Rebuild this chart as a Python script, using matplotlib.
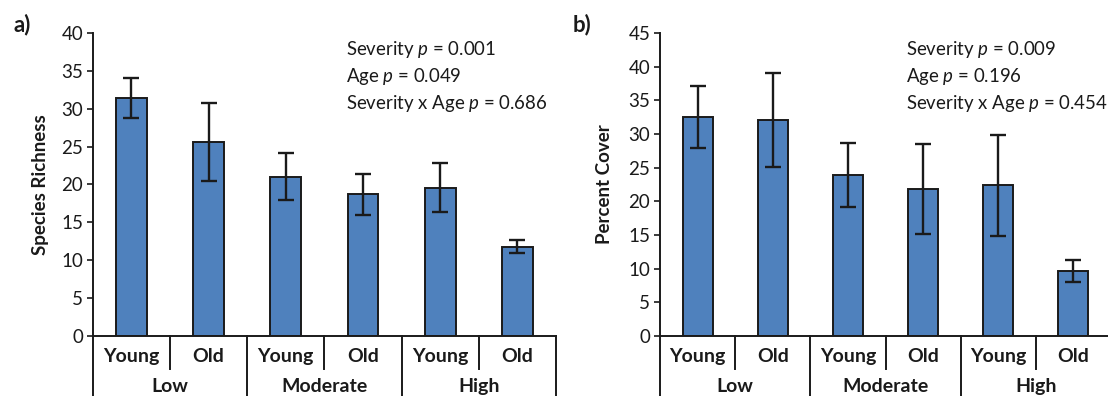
import numpy as np
import matplotlib
matplotlib.use("Agg")
import matplotlib.pyplot as plt
import matplotlib.transforms as mtransforms


# Dados (média e erro padrão).
ages = ["Young", "Old", "Young", "Old", "Young", "Old"]
severities = ["Low", "Moderate", "High"]

richness = [31.4, 25.6, 21.0, 18.7, 19.6, 11.8]
richness_err = [2.65, 5.1, 3.1, 2.7, 3.2, 0.85]

cover = [32.5, 32.1, 23.9, 21.8, 22.4, 9.65]
cover_err = [4.6, 7.0, 4.8, 6.7, 7.5, 1.6]

stats_a = ["Severity $p$ = 0.001", "Age $p$ = 0.049", "Severity x Age $p$ = 0.686"]
stats_b = ["Severity $p$ = 0.009", "Age $p$ = 0.196", "Severity x Age $p$ = 0.454"]

BLUE = "#4F81BD"
INK = "#1a1a1a"

plt.rcParams["font.family"] = ["Lato", "DejaVu Sans"]
plt.rcParams["mathtext.fontset"] = "custom"
plt.rcParams["mathtext.rm"] = "Lato"
plt.rcParams["mathtext.it"] = "Lato:italic"


############## Desenha um painel de barras com eixo agrupado. ##############
########################################################################
def PlotPanel(ax, values, errors, ymax, ylabel, stats, labelx):

  x = np.arange(len(values)) + 0.5
  ax.bar(x, values, width=0.4, color=BLUE, edgecolor=INK, linewidth=1.4,
      yerr=errors, error_kw=dict(ecolor=INK, elinewidth=1.7, capsize=5.5,
      capthick=1.7), zorder=2)

  ax.set_xlim(0, len(values))
  ax.set_ylim(0, ymax)
  ax.set_yticks(np.arange(0, ymax + 1, 5))
  ax.set_xticks([])
  ax.tick_params(axis='y', direction='out', length=4, width=1.2,
      labelsize=13.5, colors=INK, pad=3)

  for side in ["top", "right"]:
    ax.spines[side].set_visible(False)
  for side in ["left", "bottom"]:
    ax.spines[side].set_linewidth(1.4)
    ax.spines[side].set_color(INK)

  ax.set_ylabel(ylabel, fontsize=13.5, fontweight='bold', color=INK)
  ax.yaxis.set_label_coords(labelx, 0.5)

  # Linhas separadoras e rótulos das categorias abaixo do eixo.
  trans = mtransforms.blended_transform_factory(ax.transData, ax.transAxes)
  for i in range(len(values) + 1):
    bottom = -0.3 if i % 2 == 0 else -0.11
    ax.plot([i, i], [0, bottom], color=INK, linewidth=1.4,
        transform=trans, clip_on=False)
  for i in range(len(values)):
    ax.text(x[i], -0.066, ages[i], transform=trans, ha='center',
        va='center', fontsize=14, fontweight='bold', color=INK)
  for j in range(len(severities)):
    ax.text(2 * j + 1, -0.168, severities[j], transform=trans,
        ha='center', va='center', fontsize=14, fontweight='bold', color=INK)

  # Resultados estatísticos.
  for k, line in enumerate(stats):
    ax.text(0.546, [0.927, 0.838, 0.748][k], line, transform=ax.transAxes,
        ha='left', va='baseline', fontsize=13.4, color=INK)

########################################################################


######################### PROGRAMA PRINCIPAL ###########################
########################################################################

fig = plt.figure(figsize=(11.08, 3.96), dpi=100)
axA = fig.add_axes([0.0837, 0.1515, 0.4181, 0.7652])
axB = fig.add_axes([0.5957, 0.1515, 0.4070, 0.7652])

PlotPanel(axA, richness, richness_err, 40, "Species Richness", stats_a, -0.094)
PlotPanel(axB, cover, cover_err, 45, "Percent Cover", stats_b, -0.104)

fig.text(0.012, 0.937, "a)", fontsize=16, fontweight='bold', color=INK,
    va='center', ha='left')
fig.text(0.517, 0.937, "b)", fontsize=16, fontweight='bold', color=INK,
    va='center', ha='left')

fig.savefig("out.png", dpi=100)
